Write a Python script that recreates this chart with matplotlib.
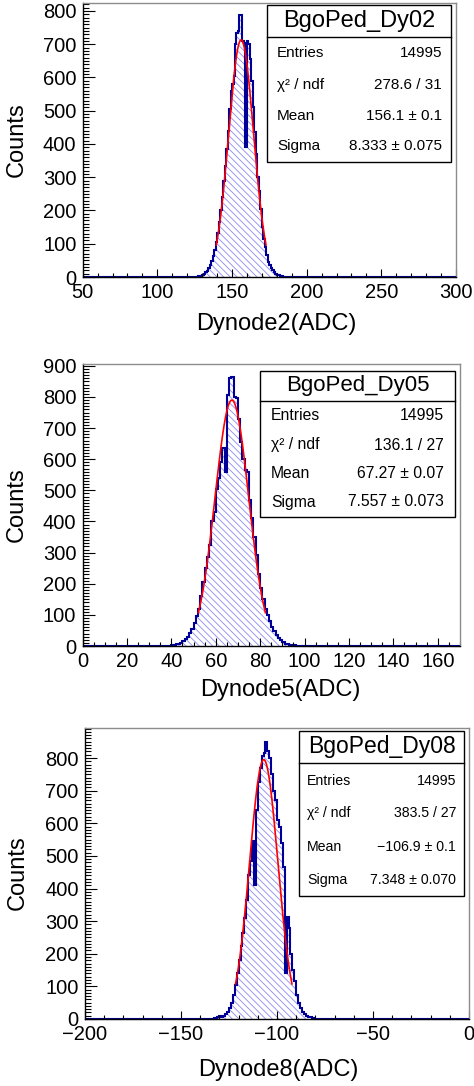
import numpy as np
import matplotlib
matplotlib.use("Agg")
import matplotlib.pyplot as plt
from matplotlib.patches import Rectangle
from matplotlib.lines import Line2D
from matplotlib.ticker import MultipleLocator

plt.rcParams["font.family"] = ["Liberation Sans", "DejaVu Sans"]
plt.rcParams["hatch.linewidth"] = 0.6

W, H = 474, 1086

# ---------------------------------------------------------------------------
# Data: counts per 1-ADC bin (first bin left edge given)
# ---------------------------------------------------------------------------
dy02_start = 125
dy02_counts = [0, 1, 2, 3, 4, 6, 10, 14, 19, 27, 36, 47, 62, 82, 105, 132,
               165, 200, 240, 290, 335, 385, 440, 505, 560, 580, 605, 700,
               735, 740, 788, 788, 710, 705, 390, 710, 700, 655, 590, 510,
               435, 370, 300, 260, 205, 150, 115, 90, 65, 45, 35, 28, 22,
               15, 10, 7, 5, 3, 2, 1, 1]

dy05_start = 40
dy05_counts = [2, 3, 5, 8, 11, 15, 22, 30, 42, 55, 75, 95, 120, 160, 205,
               250, 285, 325, 400, 432, 506, 540, 590, 635, 560, 806, 860,
               865, 800, 796, 730, 656, 600, 565, 560, 470, 410, 350, 292,
               230, 185, 150, 120, 100, 80, 60, 48, 35, 25, 18, 12, 8, 6,
               4, 3, 2, 1]

dy08_start = -135
dy08_counts = [1, 1, 2, 4, 6, 10, 7, 8, 14, 22, 35, 50, 75, 105, 140, 180,
               225, 265, 310, 365, 440, 485, 545, 410, 640, 725, 770, 805,
               815, 850, 820, 800, 750, 700, 670, 610, 590, 540, 465, 140,
               313, 280, 200, 150, 115, 75, 50, 35, 22, 15, 10, 7, 5, 3, 2, 1]

names = ["BgoPed_Dy02", "BgoPed_Dy05", "BgoPed_Dy08"]
xlabels = ["Dynode2(ADC)", "Dynode5(ADC)", "Dynode8(ADC)"]
xranges = [(50, 300), (0, 170), (-200, 0)]
ymaxes = [824, 906, 892]
entries = ["14995", "14995", "14995"]
chi2_txt = ["278.6 / 31", "136.1 / 27", "383.5 / 27"]
mean_txt = ["156.1 ± 0.1", "67.27 ± 0.07", "−106.9 ± 0.1"]
sigma_txt = ["8.333 ± 0.075", "7.557 ± 0.073", "7.348 ± 0.070"]
fit_mean = [156.1, 67.27, -106.9]
fit_sigma = [8.333, 7.557, 7.348]
fit_const = [713, 790, 795]

starts = [dy02_start, dy05_start, dy08_start]
counts_list = [dy02_counts, dy05_counts, dy08_counts]

# ---------------------------------------------------------------------------
# Layout in pixels (x from left, y from top)
# ---------------------------------------------------------------------------
frames = [(82.7, 456, 3, 277), (82.5, 460, 364, 646), (85, 469, 728, 1019)]
xmajor = [50, 20, 50]
xminor = [10, 5, 10]
boxes = [(267, 451, 5, 162, 37), (260, 455, 371, 517, 401),
         (299, 464, 731, 896, 763)]
rows_y = [(53, 85, 116, 146), (416, 445, 474, 502), (781, 813, 847, 880)]
text_lr = [(277, 442), (271, 444), (307, 456)]
row_fs = [11, 11.3, 10.2]
title_fs = [17, 16, 16.5]
xlab_pos = [(276, 324), (280, 690), (278, 1070)]
ylab_pos = [(17, 140), (17, 505), (18, 873)]


def fx(px):
    return px / W


def fy(py):
    return 1 - py / H


fig = plt.figure(figsize=(W / 100, H / 100), dpi=100)

for i in range(3):
    l, r, t, b = frames[i]
    ax = fig.add_axes([fx(l), fy(b), (r - l) / W, (b - t) / H])
    x0, x1 = xranges[i]
    edges = np.arange(x0, x1 + 1)
    vals = np.zeros(len(edges) - 1)
    s = starts[i] - x0
    vals[s:s + len(counts_list[i])] = counts_list[i]

    ax.stairs(vals, edges, fill=True, facecolor="none", edgecolor="#8a8af2",
              hatch="\\\\\\\\\\", linewidth=0, baseline=0)
    ax.stairs(vals, edges, color="#000099", linewidth=1.5, baseline=0,
              clip_on=False)

    m, sg, c = fit_mean[i], fit_sigma[i], fit_const[i]
    xs = np.linspace(m - 2 * sg, m + 2 * sg, 300)
    ax.plot(xs, c * np.exp(-0.5 * ((xs - m) / sg) ** 2), color="red", lw=1.2)

    ax.set_xlim(x0, x1)
    ax.set_ylim(0, ymaxes[i])
    ax.xaxis.set_major_locator(MultipleLocator(xmajor[i]))
    ax.xaxis.set_minor_locator(MultipleLocator(xminor[i]))
    ax.yaxis.set_major_locator(MultipleLocator(100))
    ax.yaxis.set_minor_locator(MultipleLocator(10))
    ax.tick_params(which="both", direction="in", top=False, right=False,
                   labelsize=14.5, width=0.8)
    ax.tick_params(axis="x", which="major", length=5.8, pad=4.5)
    ax.tick_params(axis="x", which="minor", length=2.9)
    ax.tick_params(axis="y", which="major", length=8.6, pad=4.5)
    ax.tick_params(axis="y", which="minor", length=4.3)
    for side in ("top", "right"):
        ax.spines[side].set_color("#8c8c8c")
    for sp in ax.spines.values():
        sp.set_linewidth(1.0)

    # axis titles
    fig.text(fx(xlab_pos[i][0]), fy(xlab_pos[i][1]), xlabels[i], fontsize=17,
             ha="center", va="center")
    fig.text(fx(ylab_pos[i][0]), fy(ylab_pos[i][1]), "Counts", fontsize=17,
             ha="center", va="center", rotation=90)

    # stats box
    bl, br, bt, bb, bd = boxes[i]
    fig.patches.append(Rectangle((fx(bl), fy(bb)), (br - bl) / W, (bb - bt) / H,
                                 transform=fig.transFigure, facecolor="white",
                                 edgecolor="black", linewidth=1.0, zorder=5))
    fig.lines.append(Line2D([fx(bl), fx(br)], [fy(bd), fy(bd)],
                            transform=fig.transFigure, color="black",
                            linewidth=1.0, zorder=6))
    fig.text(fx((bl + br) / 2), fy((bt + bd) / 2), names[i],
             fontsize=title_fs[i], ha="center", va="center", zorder=7)
    lx, rx = text_lr[i]
    labels = ["Entries", "χ² / ndf", "Mean", "Sigma"]
    values = [entries[i], chi2_txt[i], mean_txt[i], sigma_txt[i]]
    for lab, val, yy in zip(labels, values, rows_y[i]):
        fig.text(fx(lx), fy(yy), lab, fontsize=row_fs[i], ha="left",
                 va="center", zorder=7)
        fig.text(fx(rx), fy(yy), val, fontsize=row_fs[i], ha="right",
                 va="center", zorder=7)

fig.savefig("out.png", dpi=100)
